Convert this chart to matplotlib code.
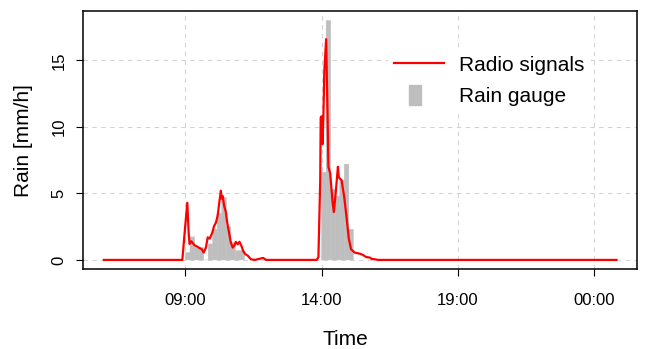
import numpy as np
import pandas as pd
import matplotlib
matplotlib.use("Agg")
import matplotlib.pyplot as plt
import matplotlib.dates as mdates
import matplotlib.patches as mpatches
from matplotlib.lines import Line2D
from matplotlib.legend_handler import HandlerPatch

plt.rcParams['font.family'] = ['Liberation Sans', 'DejaVu Sans']

# radio-link rain estimate (times as HH:MM, "24:50" = next day 00:50)
radio_times = ["06:00", "08:53", "08:58", "09:04", "09:07", "09:09", "09:13", "09:20",
               "09:26", "09:29", "09:36", "09:40", "09:45", "09:49", "09:53", "09:56",
               "09:59", "10:03", "10:07", "10:10", "10:12", "10:15", "10:18", "10:20",
               "10:22", "10:25", "10:29", "10:32", "10:36", "10:40", "10:44", "10:48",
               "10:51", "10:55", "10:59", "11:04", "11:07", "11:12", "11:18", "11:24",
               "11:33", "11:51", "11:58", "13:49", "13:53", "13:57", "13:58", "14:00",
               "14:02", "14:04", "14:06", "14:10", "14:13", "14:15", "14:19", "14:24",
               "14:27", "14:31", "14:36", "14:38", "14:44", "14:50", "14:55", "15:00",
               "15:05", "15:13", "15:24", "15:31", "15:38", "15:46", "15:51", "15:57",
               "16:04", "24:50"]
radio_rain = [0, 0, 2.0, 4.3, 2.0, 1.2, 1.4, 1.1,
              1.0, 0.93, 0.8, 0.55, 0.93, 1.7, 1.6, 1.8,
              2.05, 2.55, 2.8, 3.2, 3.6, 4.45, 5.2, 4.6,
              4.8, 4.1, 3.6, 2.8, 2.05, 1.3, 0.93, 1.1,
              1.36, 1.18, 1.36, 1.0, 0.68, 0.43, 0.3, 0.05,
              0, 0.15, 0, 0, 0.2, 6.0, 10.7, 10.8,
              8.7, 10.8, 14.2, 16.6, 11.2, 7.0, 6.5, 4.4,
              3.6, 5.0, 7.0, 6.2, 6.0, 4.7, 3.2, 1.6,
              0.8, 0.55, 0.47, 0.38, 0.22, 0.18, 0.07, 0.05,
              0, 0]

# rain gauge, 10-minute bins (bin start)
gauge_times = ["09:00", "09:10", "09:20", "09:30", "09:40", "09:50", "10:00", "10:10",
               "10:20", "10:30", "10:40", "10:50", "11:00",
               "14:00", "14:10", "14:20", "14:30", "14:40", "14:50", "15:00"]
gauge_rain = [0.55, 1.73, 0.93, 0.93, 0.0, 1.2, 2.3, 3.5,
              4.7, 2.5, 1.3, 0.7, 0.7,
              6.6, 18.0, 5.3, 4.8, 6.0, 7.2, 2.3]

xtick_times = ["09:00", "14:00", "19:00", "24:00"]
yticks = [0, 5, 10, 15]

base = pd.Timestamp("2019-06-01")


def to_dt(hhmm):
    h, m = hhmm.split(":")
    return base + pd.Timedelta(hours=int(h), minutes=int(m))


rt = [to_dt(t) for t in radio_times]
gt = [to_dt(t) for t in gauge_times]

fig = plt.figure(figsize=(6.47, 3.49), dpi=100)
ax = fig.add_axes([0.1288, 0.2278, 0.8557, 0.7407])

ax.bar(gt, gauge_rain, width=pd.Timedelta(minutes=10), align='edge',
       color='#BEBEBE', edgecolor='#BEBEBE', linewidth=0.3, snap=False, zorder=2)
ax.plot(rt, radio_rain, color='red', lw=1.6, zorder=3)

# R-style 4% padding
t0, t1 = rt[0], rt[-1]
pad = (t1 - t0) * 0.04
ax.set_xlim(t0 - pad, t1 + pad)
ymax = max(max(gauge_rain), max(radio_rain))
ax.set_ylim(-0.04 * ymax, ymax * 1.04)

ax.set_xticks([to_dt(t) for t in xtick_times])
ax.xaxis.set_major_formatter(mdates.DateFormatter('%H:%M'))
ax.set_yticks(yticks)
for lab in ax.get_yticklabels():
    lab.set_rotation(90)
    lab.set_va('center')

ax.grid(True, color='#D3D3D3', linestyle=(0, (4, 4)), linewidth=0.8)
ax.set_axisbelow(True)

ax.tick_params(axis='x', direction='out', length=5, width=0.8, labelsize=12, pad=12)
ax.tick_params(axis='y', direction='out', length=5, width=0.8, labelsize=12, pad=7)
for s in ax.spines.values():
    s.set_linewidth(1.1)

ax.set_xlabel("Time", fontsize=15)
ax.set_ylabel("Rain [mm/h]", fontsize=15)
ax.xaxis.label.set_va('center')
ax.xaxis.set_label_coords(0.473, -0.269)
ax.yaxis.set_label_coords(-0.091, 0.5)


def gauge_patch(legend, orig_handle, xdescent, ydescent, width, height, fontsize):
    w = height * 0.62
    return mpatches.Rectangle((-xdescent + width / 2 - w / 2 - 3, -ydescent), w, height)


handles = [Line2D([], [], color='red', lw=1.6),
           mpatches.Patch(color='#BEBEBE')]
leg = ax.legend(handles, ["Radio signals", "Rain gauge"], loc='center left',
                bbox_to_anchor=(0.55, 0.733), borderaxespad=0, borderpad=0.3,
                fontsize=15, handlelength=2.4, handleheight=1.15,
                handletextpad=0.72, labelspacing=0.45, frameon=True,
                fancybox=False, edgecolor='none', facecolor='white', framealpha=1,
                handler_map={mpatches.Patch: HandlerPatch(patch_func=gauge_patch)})

fig.savefig("out.png", dpi=100)
